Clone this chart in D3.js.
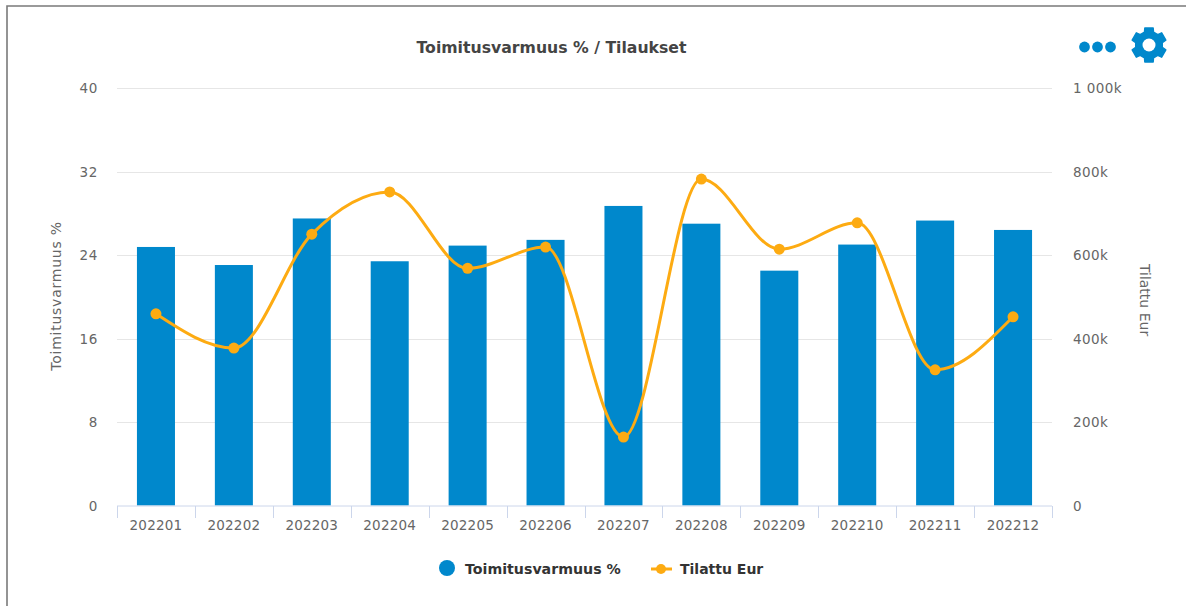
<!DOCTYPE html>
<html><head><meta charset="utf-8">
<script src="https://cdn.jsdelivr.net/npm/d3@7"></script>
<style>
html,body{margin:0;padding:0;background:#fff;overflow:hidden}
svg{display:block}
text{font-family:"DejaVu Sans",sans-serif}
</style></head><body>
<svg id="c" width="1186" height="606"></svg>
<script>
const categories=["202201","202202","202203","202204","202205","202206","202207","202208","202209","202210","202211","202212"];
const deliveryPct=[24.77,23.04,27.5,23.4,24.9,25.45,28.7,27,22.5,25,27.3,26.4];
const orderedEur=[459,377,650,751,568,619,164,782,614,677,325,452];
const leftTicks=[0,8,16,24,32,40];
const rightTicks=[0,200,400,600,800,1000];
const titleText="Toimitusvarmuus % / Tilaukset";
const leftTitle="Toimitusvarmuus %", rightTitle="Tilattu Eur";
const BLUE="#0088cc", ORANGE="#fdab12", TXT="#666666";

const svg=d3.select("#c");
const L=117,R=1052,T=88,B=505.5;
const x=d3.scaleBand().domain(categories).range([L,R]).paddingInner(0.512).paddingOuter(0.256);
const band=d3.scaleBand().domain(categories).range([L,R]);
const yL=d3.scaleLinear().domain([0,40]).range([B,T]);
const yR=d3.scaleLinear().domain([0,1000]).range([B,T]);

// frame
svg.append("path").attr("d","M7,606V6H1186").attr("fill","none").attr("stroke","#7a7a7a").attr("stroke-width",1.6);

// grid
svg.append("g").selectAll("line").data(leftTicks.slice(1)).join("line")
 .attr("x1",L).attr("x2",R).attr("y1",d=>Math.round(yL(d))+.5).attr("y2",d=>Math.round(yL(d))+.5)
 .attr("stroke","#e6e6e6");

// bars
svg.append("g").selectAll("rect").data(categories).join("rect")
 .attr("x",d=>x(d)).attr("width",x.bandwidth())
 .attr("y",(d,i)=>yL(deliveryPct[i])).attr("height",(d,i)=>B-yL(deliveryPct[i]))
 .attr("fill",BLUE);

// x axis
const edges=[...categories.map(c=>band(c)),R];
svg.append("line").attr("x1",L).attr("x2",R).attr("y1",506).attr("y2",506).attr("stroke","#ccd6eb");
svg.append("g").selectAll("line").data(edges).join("line")
 .attr("x1",d=>Math.round(d)+.5).attr("x2",d=>Math.round(d)+.5).attr("y1",506).attr("y2",518).attr("stroke","#ccd6eb");
const xAxis=d3.axisBottom(band).tickSize(0).tickPadding(0);
const gx=svg.append("g").attr("transform","translate(0,530)").call(xAxis);
gx.select(".domain").remove();
gx.selectAll("text").attr("y",0).attr("dy",0).attr("font-size",13.5).attr("fill",TXT).attr("letter-spacing",.2).style("font-family",'"DejaVu Sans"');

// y axes
const gl=svg.append("g").attr("transform","translate(98,0)").call(d3.axisLeft(yL).tickValues(leftTicks).tickSize(0).tickPadding(0));
gl.select(".domain").remove();
gl.selectAll("text").attr("dy",4.5).attr("font-size",13.5).attr("letter-spacing",.6).attr("fill",TXT).style("font-family",'"DejaVu Sans"');
const fmt=d=>d>=1000?"1 000k":(d===0?"0":d+"k");
const gr=svg.append("g").attr("transform","translate(1073,0)").call(d3.axisRight(yR).tickValues(rightTicks).tickFormat(fmt).tickSize(0).tickPadding(0));
gr.select(".domain").remove();
gr.selectAll("text").attr("dy",4.5).attr("font-size",13.5).attr("letter-spacing",.4).attr("fill",TXT).style("font-family",'"DejaVu Sans"');

// axis titles
svg.append("text").attr("transform","translate(61,296) rotate(-90)").attr("text-anchor","middle").attr("font-size",14).attr("fill",TXT).attr("letter-spacing",.75).text(leftTitle);
svg.append("text").attr("transform","translate(1140,300) rotate(90)").attr("text-anchor","middle").attr("font-size",14).attr("fill",TXT).text(rightTitle);

// line
const cx=c=>band(c)+band.bandwidth()/2;
const line=d3.line().x((d,i)=>cx(categories[i])).y(d=>yR(d)).curve(d3.curveMonotoneX);
svg.append("path").attr("d",line(orderedEur)).attr("fill","none").attr("stroke",ORANGE).attr("stroke-width",3);
svg.append("g").selectAll("circle").data(orderedEur).join("circle")
 .attr("cx",(d,i)=>cx(categories[i])).attr("cy",d=>yR(d)).attr("r",5.5).attr("fill",ORANGE);

// title
svg.append("text").attr("x",551.5).attr("y",53).attr("text-anchor","middle").attr("font-size",15.7).attr("font-weight",700).attr("fill","#444").text(titleText);

// legend
svg.append("circle").attr("cx",447).attr("cy",568).attr("r",8).attr("fill",BLUE);
svg.append("text").attr("x",465).attr("y",574).attr("font-size",14.2).attr("font-weight",700).attr("fill","#333").text(leftTitle);
svg.append("line").attr("x1",651).attr("x2",672).attr("y1",569).attr("y2",569).attr("stroke",ORANGE).attr("stroke-width",3);
svg.append("circle").attr("cx",661).attr("cy",569).attr("r",5).attr("fill",ORANGE);
svg.append("text").attr("x",680).attr("y",574).attr("font-size",14).attr("font-weight",700).attr("fill","#333").text(rightTitle);

// menu icons
svg.append("g").selectAll("circle").data([1084.5,1097.5,1110.5]).join("circle").attr("cx",d=>d).attr("cy",47).attr("r",5.4).attr("fill",BLUE);
const teeth=6, Ro=17.5, Ri=13.5, gear=[];
for(let i=0;i<teeth;i++){
  const a=i*2*Math.PI/teeth, w=0.24, w2=0.34;
  gear.push([a-w2,Ri],[a-w,Ro],[a+w,Ro],[a+w2,Ri]);
}
const gp=d3.lineRadial().angle(d=>d[0]).radius(d=>d[1]).curve(d3.curveLinearClosed);
const gg=svg.append("g").attr("transform","translate(1149,45)");
gg.append("path").attr("d",gp(gear)).attr("fill",BLUE).attr("stroke",BLUE).attr("stroke-width",1.5).attr("stroke-linejoin","round");
gg.append("circle").attr("r",6.5).attr("fill","#fff");
</script>
</body></html>
